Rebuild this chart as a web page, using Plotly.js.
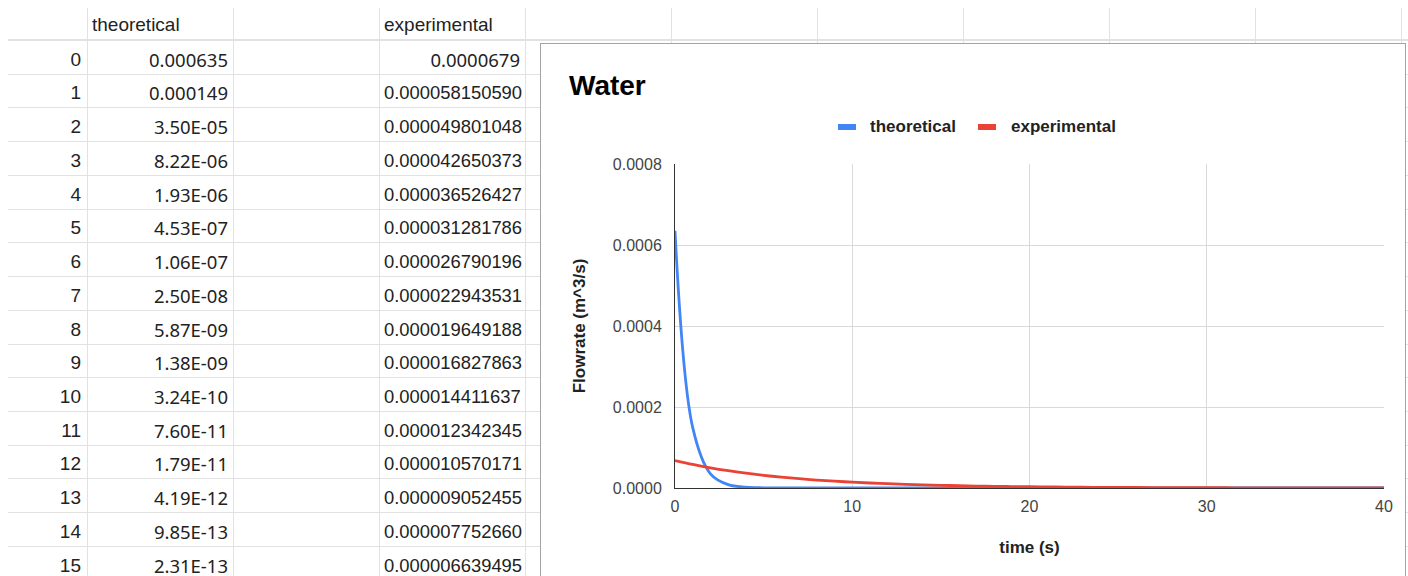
<!DOCTYPE html>
<html>
<head>
<meta charset="utf-8">
<script src="https://cdn.plot.ly/plotly-3.0.1.min.js"></script>
<style>
  html, body { margin: 0; padding: 0; background: #fff; }
  body { width: 1408px; height: 576px; overflow: hidden; position: relative; }
  .gl { position: absolute; background: #e2e2e2; }
  .cell { position: absolute; overflow: hidden; white-space: nowrap; display: flex; align-items: flex-end;
          box-sizing: border-box; color: #222; font-size: 19px; line-height: 22px; padding-bottom: 3px; }
  .hdr { font-family: "Liberation Sans", Arial, sans-serif; }
  .num { font-family: "Noto Sans", "Open Sans", sans-serif; font-size: 18.5px; }
  .txt { font-family: "Liberation Sans", Arial, sans-serif; }
  .long { font-size: 18.4px; }
  #chartBox { position: absolute; left: 540px; top: 43px; width: 864px; height: 560px;
              border: 1px solid #a3a3a3; background: #fff; }
  #chart { width: 864px; height: 560px; }
</style>
</head>
<body>
<div id="sheet"></div>
<div id="chartBox"><div id="chart"></div></div>
<script>
// Column headers and series names
const seriesNames = ["theoretical", "experimental"];

// Time in seconds (row index of the sheet)
const time = [0, 1, 2, 3, 4, 5, 6, 7, 8, 9, 10, 11, 12, 13, 14, 15, 16, 17, 18, 19, 20,
              21, 22, 23, 24, 25, 26, 27, 28, 29, 30, 31, 32, 33, 34, 35, 36, 37, 38, 39, 40];

// Theoretical flowrate (m^3/s)
const theoretical = [0.000635, 0.000149, 3.50e-5, 8.22e-6, 1.93e-6, 4.53e-7, 1.06e-7, 2.50e-8,
                     5.87e-9, 1.38e-9, 3.24e-10, 7.60e-11, 1.79e-11, 4.19e-12, 9.85e-13, 2.31e-13,
                     5.43e-14, 1.28e-14, 3.0e-15, 7.0e-16, 1.6e-16, 3.9e-17, 9.1e-18, 2.1e-18, 5.0e-19,
                     1.2e-19, 2.8e-20, 6.5e-21, 1.5e-21, 3.6e-22, 8.4e-23, 2.0e-23, 4.6e-24, 1.1e-24,
                     2.5e-25, 6.0e-26, 1.4e-26, 3.3e-27, 7.7e-28, 1.8e-28, 4.2e-29];

// Experimental flowrate (m^3/s)
const experimental = [0.0000679, 0.00005815059, 0.000049801048, 0.000042650373, 0.000036526427,
                      0.000031281786, 0.000026790196, 0.000022943531, 0.000019649188, 0.000016827863,
                      0.000014411637, 0.000012342345, 0.000010570171, 0.000009052455, 0.00000775266,
                      0.000006639495, 5.686e-6, 4.869e-6, 4.170e-6, 3.571e-6, 3.058e-6, 2.619e-6,
                      2.243e-6, 1.921e-6, 1.645e-6, 1.409e-6, 1.207e-6, 1.033e-6, 8.85e-7, 7.58e-7,
                      6.49e-7, 5.56e-7, 4.76e-7, 4.08e-7, 3.49e-7, 2.99e-7, 2.56e-7, 2.19e-7,
                      1.88e-7, 1.61e-7, 1.38e-7];

// Number of sheet rows visible in the window
const visibleRows = 16;

// ---------- spreadsheet grid ----------
const sheet = document.getElementById("sheet");
const colEdges = [87, 233, 379, 525, 671, 817, 963, 1109, 1255, 1401];
const gridTop = 8, headerBottom = 40, rowH = 33.73;

function line(x, y, w, h) {
  const d = document.createElement("div");
  d.className = "gl";
  Object.assign(d.style, { left: x + "px", top: y + "px", width: w + "px", height: h + "px" });
  sheet.appendChild(d);
}
colEdges.forEach(x => line(x, gridTop, 1, 576 - gridTop));
line(8, headerBottom - 1, 1400, 2);
for (let k = 1; k <= visibleRows; k++) line(8, Math.round(headerBottom + k * rowH), 1400, 1);

function cell(text, x0, x1, top, bottom, cls, align, pad) {
  const d = document.createElement("div");
  d.className = "cell " + cls;
  d.textContent = text;
  Object.assign(d.style, {
    left: x0 + "px", top: top + "px", width: (x1 - x0) + "px", height: (bottom - top) + "px",
    justifyContent: align === "right" ? "flex-end" : "flex-start"
  });
  if (align === "right") d.style.paddingRight = pad + "px"; else d.style.paddingLeft = pad + "px";
  sheet.appendChild(d);
}

function sci(v) {
  if (v >= 1e-4) return String(v);
  const [m, e] = v.toExponential(2).toUpperCase().split("E");
  const n = Math.abs(parseInt(e, 10));
  return m + "E" + (e[0] === "-" ? "-" : "+") + (n < 10 ? "0" + n : n);
}

cell(seriesNames[0], colEdges[0] + 1, colEdges[1], gridTop, headerBottom - 1, "hdr", "left", 4);
cell(seriesNames[1], colEdges[2] + 1, colEdges[3], gridTop, headerBottom - 1, "hdr", "left", 4);

for (let r = 0; r < visibleRows; r++) {
  const top = headerBottom + r * rowH + 1, bottom = headerBottom + (r + 1) * rowH;
  cell(String(time[r]), 8, colEdges[0], top, bottom, "txt", "right", 6);
  cell(sci(theoretical[r]), colEdges[0] + 1, colEdges[1], top, bottom, "num", "right", 5);
  if (r === 0) cell(String(experimental[r]), colEdges[2] + 1, colEdges[3], top, bottom, "num", "right", 5);
  else cell(experimental[r].toFixed(12), colEdges[2] + 1, colEdges[3] + 2, top, bottom, "txt long", "left", 4);
}

// ---------- chart ----------
const W = 864, H = 560, M = { l: 134, r: 21, t: 120, b: 116 };
const pw = W - M.l - M.r, ph = H - M.t - M.b;
const px = x => (x - M.l) / pw;
const py = y => (H - M.b - y) / ph;

const colors = ["#4285f4", "#ea4335"];
const traces = [theoretical, experimental].map((ys, i) => ({
  type: "scatter", mode: "lines", name: seriesNames[i], x: time, y: ys,
  line: { color: colors[i], width: 2.8, shape: "spline", smoothing: 1 },
  showlegend: false, hoverinfo: "skip"
}));

const font = "Liberation Sans, Arial, sans-serif";
const legendItems = [
  { sx: 297, tx: 327 },
  { sx: 437, tx: 468 }
];
const shapes = legendItems.map((it, i) => ({
  type: "rect", xref: "paper", yref: "paper",
  x0: px(it.sx), x1: px(it.sx + 18), y0: py(86), y1: py(80),
  fillcolor: colors[i], line: { width: 0 }
}));
const annotations = legendItems.map((it, i) => ({
  xref: "paper", yref: "paper", x: px(it.tx), y: py(83), xanchor: "left", yanchor: "middle",
  text: seriesNames[i], showarrow: false,
  font: { family: font, size: 17, weight: "bold", color: "#222" }
}));

const layout = {
  width: W, height: H, margin: M,
  paper_bgcolor: "#fff", plot_bgcolor: "#fff",
  title: {
    text: "Water", xref: "container", yref: "container",
    x: 28 / W, xanchor: "left", y: 1 - 41 / H, yanchor: "middle",
    font: { family: font, size: 28, weight: "bold", color: "#000" }
  },
  xaxis: {
    range: [0, 40], dtick: 10, tick0: 0, showgrid: true, gridcolor: "#d9d9d9", gridwidth: 1,
    zeroline: false, showline: true, linecolor: "#333", linewidth: 1, ticks: "",
    tickfont: { family: font, size: 16, color: "#444" }, ticklabelstandoff: 4,
    title: { text: "time (s)", standoff: 26, font: { family: font, size: 17, weight: "bold", color: "#222" } },
    fixedrange: true
  },
  yaxis: {
    range: [0, 0.0008], dtick: 0.0002, tick0: 0, tickformat: ".4f", showgrid: true,
    gridcolor: "#d9d9d9", gridwidth: 1, zeroline: false, showline: true, linecolor: "#333",
    linewidth: 1, ticks: "", tickfont: { family: font, size: 16, color: "#444" },
    ticklabelstandoff: 9,
    title: { text: "Flowrate (m^3/s)", standoff: 22, font: { family: font, size: 17, weight: "bold", color: "#222" } },
    fixedrange: true
  },
  shapes: shapes,
  annotations: annotations,
  showlegend: false
};

Plotly.newPlot("chart", traces, layout, { displayModeBar: false, staticPlot: true });
</script>
</body>
</html>
